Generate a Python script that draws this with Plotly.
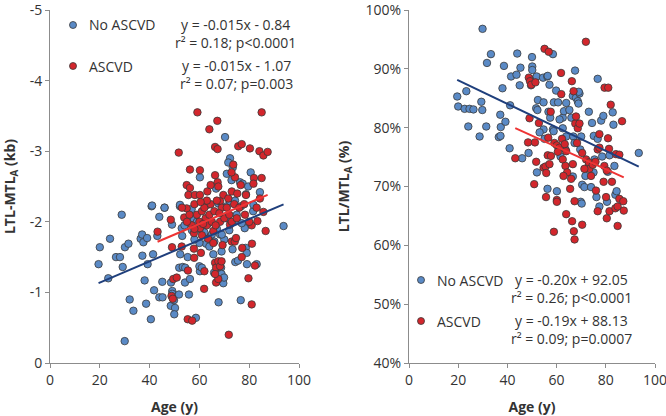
import plotly.graph_objects as go

# ---------------- Left panel: LTL-MTL_A (kb) vs Age ----------------
L_blue_age = [19.5, 20, 24.1, 23.4, 28.8, 26.5, 28.1, 29.2, 30.1, 31.5, 32, 33.5, 30, 36.4, 37, 37.5, 39,
              37.1, 39.2, 38, 38.6, 41.4, 40.8, 41.8, 43.9, 43.1, 43.9, 45.2, 45.1, 40.5, 46, 48.6, 49.1,
              49.1, 48.5, 50.2, 49.9, 49.8, 49, 52.2, 52.9, 53.1, 52.3, 51.9, 53.3, 54.3, 54.2, 51.8, 55.3,
              56.2, 55.8, 58.6, 57.6, 59.6, 60.9, 60.2, 60, 61, 62.7, 64, 65.6, 65.9, 66.9, 67.7, 68.3, 68.9,
              68.7, 68.9, 68.9, 69.6, 69.9, 70.9, 73.3, 74.4, 75.5, 76.6, 78.1, 78.2, 78.6, 79, 79.1, 83,
              93.8, 76.7, 75.2, 81.6, 56.9,
              70.3, 72.3, 71.6, 73.4, 60.2, 71, 72.9, 76.3, 77.4, 80.6, 79.6, 78.7, 84.3, 66.7, 72.3, 74.3,
              41, 46, 52.2, 67.6, 81.7, 63,
              55, 57, 59, 61, 62, 63.5, 65, 66, 67, 70, 72, 64, 60, 58, 54, 71, 75, 77, 69]
L_blue_val = [-1.40, -1.64, -1.76, -1.20, -2.10, -1.50, -1.50, -1.36, -1.64, -1.69, -0.90, -0.74, -0.31,
              -1.76, -1.82, -1.71, -1.77, -1.52, -1.40, -1.17, -0.84, -1.54, -2.22, -1.03, -2.07, -1.80,
              -0.93, -0.93, -1.15, -0.62, -2.20, -1.14, -1.02, -0.98, -0.81, -0.78, -0.69, -0.89, -1.96,
              -2.22, -1.91, -1.80, -1.54, -1.35, -1.36, -1.35, -1.14, -0.97, -1.50, -1.19, -0.97, -0.64,
              -2.05, -1.93, -1.88, -1.30, -1.37, -1.35, -1.69, -1.78, -1.54, -1.28, -1.26, -0.86, -1.82,
              -1.58, -1.35, -1.26, -1.16, -1.13, -1.21, -2.22, -1.61, -1.43, -1.45, -0.89, -1.95, -1.91,
              -1.63, -1.56, -1.40, -1.40, -1.94, -2.22, -2.02, -2.15, -2.18,
              -3.20, -2.90, -2.84, -2.77, -2.63, -2.68, -2.59, -2.56, -2.54, -2.70, -2.50, -2.39, -2.42,
              -2.47, -2.29, -2.30, -2.23, -2.20, -2.24, -2.26, -2.24, -2.25,
              -2.05, -1.88, -2.00, -1.92, -1.85, -1.98, -1.82, -1.72, -1.90, -1.75, -1.88, -1.65, -1.70,
              -1.75, -1.95, -2.05, -2.10, -1.98, -1.82]

L_red_age = [43.2, 49, 48.5, 49.5, 50.9, 48.8, 49.3, 52.9, 55.3, 57.1, 55.4, 57.9, 57.8, 60.6, 61.9, 62,
             57.8, 61, 63.5, 65.6, 66.3, 66.7, 67.6, 68.3, 68.9, 66.7, 67.6, 66.3, 69.3, 71.8, 73, 74.2,
             74.7, 77, 77.2, 79.7, 81, 81.1, 82.3, 86.6, 81, 83.3, 85.7, 78.3, 72.3, 68.3, 65.6, 60.2,
             54.9, 53.9,
             59.2, 85, 64, 67.2, 51.7, 66.3, 67.3, 75.6, 77, 80.3, 84.1, 85.7, 87.4, 56.2, 60.2, 54.9,
             56.2, 63.2, 64.5, 66.3, 67.3, 67.6, 73.6, 74.3, 76.6, 78.7, 81.9, 85, 81.7, 55.6, 58.2, 60.2,
             69.6, 71.6, 73, 75.2, 84.3, 72.9, 68.3, 63.2,
             58, 59, 60, 61, 62, 62.5, 63, 64, 64.5, 65, 66, 67, 56, 57, 58, 63, 69, 70, 71, 72, 74, 76,
             53, 55, 60.5, 61.5, 66.5, 68, 73, 75, 78, 80, 83]
L_red_val = [-1.86, -1.64, -2.03, -1.19, -1.21, -0.95, -0.91, -1.65, -0.62, -0.60, -1.31, -1.49, -1.62,
             -1.56, -1.05, -1.30, -1.84, -1.81, -1.76, -1.70, -1.42, -1.35, -1.44, -1.37, -1.44, -1.14,
             -1.19, -1.26, -1.67, -0.40, -1.72, -1.72, -1.77, -1.50, -1.63, -1.20, -0.83, -1.69, -1.38,
             -1.87, -1.95, -2.01, -2.14, -2.10, -1.96, -2.00, -1.87, -1.91, -2.19, -2.06,
             -3.55, -3.55, -3.31, -3.43, -2.98, -3.06, -3.03, -3.07, -3.10, -3.04, -3.00, -2.94, -2.99,
             -2.74, -2.73, -2.52, -2.48, -2.43, -2.52, -2.66, -2.56, -2.50, -2.81, -2.63, -2.52, -2.38,
             -2.62, -2.62, -2.54, -2.38, -2.38, -2.38, -2.38, -2.33, -2.43, -2.40, -2.33, -2.70, -2.29,
             -2.24,
             -2.25, -2.10, -2.00, -2.15, -2.20, -2.05, -1.95, -2.10, -2.25, -2.00, -2.15, -2.30, -2.10,
             -1.95, -1.90, -2.30, -2.20, -2.05, -2.20, -2.10, -2.25, -2.20,
             -2.20, -2.00, -2.28, -1.97, -1.95, -2.12, -2.00, -2.05, -2.25, -2.00, -2.20]

# ---------------- Right panel: LTL/MTL_A (%) vs Age ----------------
R_blue_age = [29.9, 33.3, 31.7, 38.6, 44, 45.3, 50, 50.1, 50.1, 41.5, 43.7, 45, 38, 23.3, 19.6, 20, 22.6,
              24.6, 26.2, 29.4, 29.8, 24.1, 28.7, 31.4, 37.3, 36.5, 37.2, 37.1, 39.2, 41.1, 40.9, 46, 48.6,
              49.6, 49.2, 51.9, 52.4, 51.7, 52.2, 54.5, 56.2, 56.4, 58.5, 57.1, 59.8, 58.9, 54.7, 56.7,
              57.4, 58.5, 54.7, 53.1, 55.1, 52, 56.3, 58.8, 60.6, 62.5, 63, 63.9, 65.2, 66.6, 67.5, 67.9,
              69.3, 69, 68.6, 68.9, 61.2, 62.5, 63.9, 66, 66.8, 67.3, 63.6, 61.6, 70, 73.1, 76.7, 74.4,
              75.1, 76.7, 78.1, 79, 82.8, 83.1, 78.5, 75.4, 81.5, 83.5, 93.4, 69.6, 73.1, 71.7, 70.4, 71.3,
              74, 66.6, 60.1, 75, 80.8, 83.9, 84.4, 76.2, 69.8, 70.2, 77.4, 80.5]
R_blue_val = [96.8, 92.5, 91.0, 90.5, 92.6, 90.2, 92.0, 90.4, 89.8, 88.7, 89.0, 87.2, 86.7, 86.2, 85.3,
              83.6, 83.2, 83.2, 83.1, 84.4, 83.0, 80.2, 78.5, 80.2, 80.1, 78.4, 78.6, 82.2, 81.0, 83.8,
              76.5, 74.8, 75.7, 87.2, 88.3, 88.7, 84.7, 83.3, 83.0, 88.5, 88.7, 88.8, 92.5, 87.3, 86.3,
              84.3, 84.3, 82.7, 81.7, 79.7, 79.7, 79.2, 78.1, 72.4, 69.6, 79.4, 84.3, 81.7, 82.8, 84.2,
              83.0, 85.4, 89.7, 85.1, 85.8, 86.1, 84.5, 84.1, 81.4, 79.9, 78.5, 81.7, 78.5, 77.4, 76.3,
              75.1, 78.5, 82.7, 88.3, 80.8, 78.6, 78.1, 81.2, 82.0, 82.6, 80.5, 75.1, 74.6, 75.3, 73.5,
              75.7, 76.3, 73.6, 71.8, 70.3, 69.9, 69.9, 71.7, 69.2, 72.4, 72.5, 68.6, 69.2, 68.2, 67.4,
              67.1, 66.6, 67.4]

R_red_age = [71.9, 55.1, 56.8, 61.8, 48.7, 49.2, 49.7, 51.4, 66.2, 66.9, 79.5, 81, 82, 86.6, 61.9, 49,
             52.8, 56.6, 57.6, 43.2, 48.4, 51.2, 51.7, 50.9, 54.7, 55.5, 55.8, 57.1, 56.4, 57.7, 59.1,
             60.1, 61.2, 60.5, 62.2, 63.3, 63.9, 62.5, 63.6, 64.3, 62.8, 65.9, 66.6, 67.6, 67.9, 68.6,
             69.3, 68.3, 70.4, 72, 73.1, 73.3, 74.7, 75.8, 76.7, 77.4, 77.4, 79.4, 80.4, 80.9, 81.3, 84.1,
             85.5, 82.5, 79.1, 74, 71.3, 65.5, 55.7, 60.1, 67.3, 76, 80.1, 85.5, 87.1,
             58.9, 63.9, 66.3, 67, 67.3, 70.4, 76.7, 80.4, 81.5, 83.9, 84.8, 84.8, 87.3, 60.1]
R_red_val = [94.6, 93.4, 92.9, 89.3, 88.5, 87.9, 87.3, 87.7, 87.9, 86.2, 86.8, 86.8, 83.9, 81.1, 85.7,
             81.6, 80.8, 78.3, 82.7, 74.8, 77.5, 77.5, 74.2, 70.4, 73.2, 73.4, 72.3, 73.8, 75.3, 75.2,
             77.4, 77.0, 76.6, 75.9, 78.1, 77.2, 76.0, 74.6, 73.5, 72.4, 71.8, 71.3, 73.8, 80.7, 81.9,
             79.9, 80.7, 77.4, 75.7, 74.6, 74.1, 73.0, 73.7, 74.2, 76.3, 78.9, 76.6, 73.5, 72.7, 78.2,
             76.4, 75.5, 75.4, 70.8, 70.8, 71.8, 73.0, 69.6, 68.2, 67.7, 67.5, 69.3, 68.2, 67.9, 67.5,
             62.3, 65.3, 64.1, 62.4, 61.0, 63.5, 65.8, 64.6, 65.8, 66.3, 66.6, 63.3, 65.9, 67.4]

# Published regression fits (slope, intercept) and labels
groups = ["No ASCVD", "ASCVD"]
L_slope = [-0.015, -0.015]
L_icpt = [-0.84, -1.07]
L_eq = ["y = -0.015x - 0.84", "y = -0.015x - 1.07"]
L_stat = ["r² = 0.18; p<0.0001", "r² = 0.07; p=0.003"]
R_slope = [-0.20, -0.19]
R_icpt = [92.05, 88.13]
R_eq = ["y = -0.20x + 92.05", "y = -0.19x + 88.13"]
R_stat = ["r² = 0.26; p<0.0001", "r² = 0.09; p=0.0007"]

x_ticks = [0, 20, 40, 60, 80, 100]
L_yticks = [0, -1, -2, -3, -4, -5]
L_yticktext = ["0", "-1", "-2", "-3", "-4", "-5"]
R_yticks = [40, 50, 60, 70, 80, 90, 100]
R_yticktext = ["40%", "50%", "60%", "70%", "80%", "90%", "100%"]

PT_COL = ["#5a8ac6", "#d3262c"]
LN_COL = ["#1f3f7c", "#ee3434"]
FONT = "Open Sans"
TXT = "#333333"
AX = "#8c8c8c"

fig = go.Figure()

def add_points(x, y, col, xa, ya):
    fig.add_trace(go.Scatter(x=x, y=y, mode="markers", xaxis=xa, yaxis=ya, showlegend=False,
                             marker=dict(size=7.5, color=col, line=dict(color="#3a3a3a", width=0.8))))

def add_fit(x, slope, icpt, col, xa, ya):
    xs = [min(x), max(x)]
    ys = [slope * v + icpt for v in xs]
    fig.add_trace(go.Scatter(x=xs, y=ys, mode="lines", xaxis=xa, yaxis=ya, showlegend=False,
                             line=dict(color=col, width=2)))

add_points(L_blue_age, L_blue_val, PT_COL[0], "x", "y")
add_points(L_red_age, L_red_val, PT_COL[1], "x", "y")
add_fit(L_blue_age, L_slope[0], L_icpt[0], LN_COL[0], "x", "y")
add_fit(L_red_age, L_slope[1], L_icpt[1], LN_COL[1], "x", "y")

add_points(R_blue_age, R_blue_val, PT_COL[0], "x2", "y2")
add_points(R_red_age, R_red_val, PT_COL[1], "x2", "y2")
add_fit(R_blue_age, R_slope[0], R_icpt[0], LN_COL[0], "x2", "y2")
add_fit(R_red_age, R_slope[1], R_icpt[1], LN_COL[1], "x2", "y2")

W, H = 666, 416
ML, MR, MT, MB = 50, 11, 10, 53
PW, PH = W - ML - MR, H - MT - MB

def px(xp):
    return (xp - ML) / PW

def py(yp):
    return (H - MB - yp) / PH

axis_common = dict(showline=True, linecolor=AX, linewidth=1, ticks="outside", tickcolor=AX,
                   ticklen=4, showgrid=False, zeroline=False, automargin=False,
                   ticklabeloverflow="allow",
                   tickfont=dict(size=14, color=TXT, family=FONT))

fig.update_layout(
    width=W, height=H, margin=dict(l=ML, r=MR, t=MT, b=MB),
    paper_bgcolor="white", plot_bgcolor="white",
    font=dict(family=FONT, color=TXT),
    xaxis=dict(domain=[0, px(299)], range=[0, 100], tickvals=x_ticks, anchor="y",
               title=dict(text="<b>Age (y)</b>", font=dict(size=14), standoff=14), **axis_common),
    yaxis=dict(range=[0, -5], tickvals=L_yticks, ticktext=L_yticktext, anchor="x",
               title=dict(text="<b>LTL-MTL<sub>A</sub> (kb)</b>", font=dict(size=14), standoff=10),
               **axis_common),
    xaxis2=dict(domain=[px(409), 1], range=[0, 100], tickvals=x_ticks, anchor="y2",
                title=dict(text="<b>Age (y)</b>", font=dict(size=14), standoff=14), **axis_common),
    yaxis2=dict(range=[40, 100], tickvals=R_yticks, ticktext=R_yticktext, anchor="x2",
                title=dict(text="<b>LTL/MTL<sub>A</sub> (%)</b>", font=dict(size=14), standoff=12),
                **axis_common),
)

shapes = []
annos = []
def legend_block(dot_x, dot_y, eq_x, eq, stat, col, name):
    r = 3.5
    shapes.append(dict(type="circle", xref="paper", yref="paper",
                       x0=px(dot_x - r), x1=px(dot_x + r), y0=py(dot_y + r), y1=py(dot_y - r),
                       fillcolor=col, line=dict(color="#3a3a3a", width=0.8)))
    annos.append(dict(xref="paper", yref="paper", x=px(dot_x + 14), y=py(dot_y), text=name,
                      showarrow=False, xanchor="left", yanchor="middle", font=dict(size=14, color=TXT)))
    annos.append(dict(xref="paper", yref="paper", x=px(eq_x), y=py(dot_y - 1), text=eq,
                      showarrow=False, xanchor="center", yanchor="middle", font=dict(size=14, color=TXT)))
    annos.append(dict(xref="paper", yref="paper", x=px(eq_x), y=py(dot_y + 17), text=stat,
                      showarrow=False, xanchor="center", yanchor="middle", font=dict(size=14, color=TXT)))

legend_block(73, 25, 235, L_eq[0], L_stat[0], PT_COL[0], groups[0])
legend_block(73, 66, 236, L_eq[1], L_stat[1], PT_COL[1], groups[1])
legend_block(421, 280, 571, R_eq[0], R_stat[0], PT_COL[0], groups[0])
legend_block(421, 321, 571, R_eq[1], R_stat[1], PT_COL[1], groups[1])

fig.update_layout(shapes=shapes, annotations=annos)

fig.write_html("out.html", config={"displayModeBar": False},
               post_script="document.body.style.margin='0px';document.body.style.overflow='hidden';")
